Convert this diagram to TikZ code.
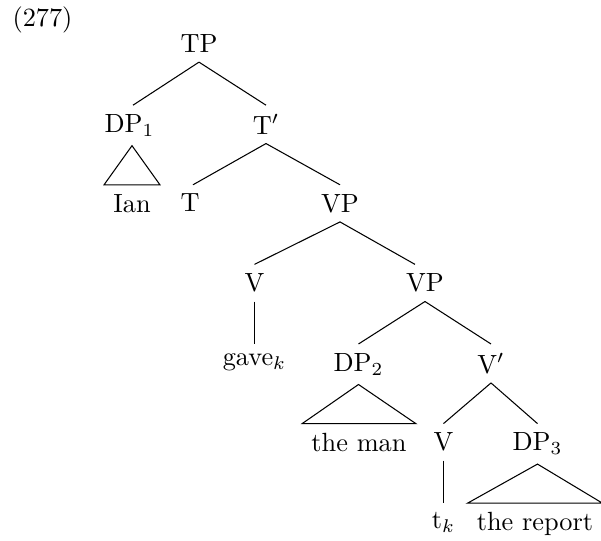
\documentclass[tikz,border=0pt]{standalone}
\begin{document}
\begin{tikzpicture}[x=0.38pt,y=-0.38pt,
  nd/.style={anchor=north,inner sep=3.33pt},
  edge/.style={draw=black,line width=0.4pt}]
\useasboundingbox (0,0) rectangle (601,541);
\node[anchor=base west,inner sep=0pt] (ex) at (12,27) {(277)};
% row tops
\node[nd] (tp) at (199,25.6) {TP};
\node[nd] (dp1) at (129.5,105.2) {DP$_1$};
\node[nd] (tbar) at (266,105.2) {T$'$};
\node[nd] (ian) at (132,184.8) {Ian};
\node[nd] (t) at (190,184.8) {T};
\node[nd] (vp) at (340,184.8) {VP};
\node[nd] (v) at (254.5,264.4) {V};
\node[nd] (vp2) at (425,264.4) {VP};
\node[nd] (gave) at (254.5,344) {gave$_k$};
\node[nd] (dp2) at (358.5,344) {DP$_2$};
\node[nd] (vbar) at (491,344) {V$'$};
\node[nd] (theman) at (359,423.6) {the man};
\node[nd] (v2) at (443.5,423.6) {V};
\node[nd] (dp3) at (537.5,423.6) {DP$_3$};
\node[nd] (tk) at (443.5,503.2) {t$_k$};
\node[nd] (thereport) at (535,503.2) {the report};
% edges
\draw[edge] (tp.south) -- ([xshift=1.33pt]dp1.north);
\draw[edge] (tp.south) -- (tbar.north);
\draw[edge] ([xshift=0.95pt]dp1.south) -- (ian.north west) -- (ian.north east) -- cycle;
\draw[edge] (tbar.south) -- ([xshift=1.14pt]t.north);
\draw[edge] (tbar.south) -- (vp.north);
\draw[edge] (vp.south) -- (v.north);
\draw[edge] (vp.south) -- ([xshift=-3.8pt]vp2.north);
\draw[edge] (v.south) -- (gave.north);
\draw[edge] (vp2.south) -- (dp2.north);
\draw[edge] (vp2.south) -- (vbar.north);
\draw[edge] (dp2.south) -- (theman.north west) -- (theman.north east) -- cycle;
\draw[edge] (vbar.south) -- (v2.north);
\draw[edge] (vbar.south) -- (dp3.north);
\draw[edge] (v2.south) -- (tk.north);
\draw[edge] (dp3.south) -- (thereport.north west) -- (thereport.north east) -- cycle;
\end{tikzpicture}
\end{document}
